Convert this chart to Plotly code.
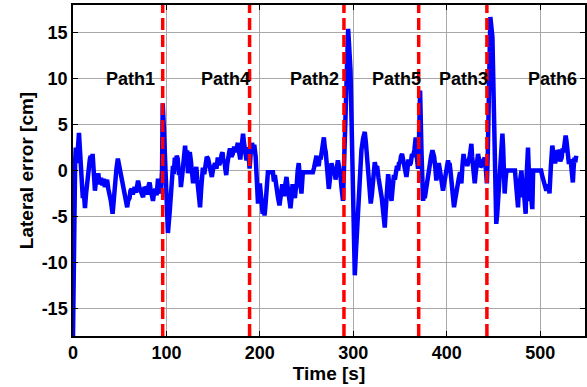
import plotly.graph_objects as go

# Time stamps [s]
time_s = [
    0, 0.5, 1.5, 2.3, 3, 4, 5, 6.4, 7.3, 8.5, 9.5, 10.5, 11.5, 12.8, 14, 15, 16, 17, 18, 19,
    20, 21, 22.3, 23.5, 24.5, 25.5, 26.2, 27, 28.5, 30, 31.5, 33, 34, 35, 36.5, 37.8, 39, 40.5, 42.4, 43.5,
    45, 46.5, 48, 49.5, 51, 52, 53.5, 55, 56, 57, 58, 59, 60.5, 61.5, 62.7, 64, 66, 67.5, 69.6, 71,
    72, 73.5, 75, 76.5, 78, 79.5, 81, 82, 83, 84, 85.6, 86.8, 88, 89.5, 91, 92.5, 94, 95.3, 96, 97.3,
    98.4, 100, 101.6, 103.5, 104.5, 105.5, 106.3, 107, 107.8, 109, 110, 111, 112, 112.8, 113.5, 114.5, 115.5, 116.8, 118, 119,
    120, 120.8, 121.5, 122.2, 123, 124, 125, 126, 127, 127.8, 128.5, 129.5, 131, 132, 133, 134.5, 136, 137.2, 139, 140.5,
    142, 143.2, 144.6, 145.8, 147, 148.6, 150, 152, 153.5, 155, 156.5, 158, 159, 160, 161, 162, 163, 164, 165, 166,
    167, 168, 169.5, 171, 172.5, 174, 175.3, 176.5, 177.8, 179, 180.5, 182, 183, 184, 185.7, 186.5, 187.5, 188.3, 189, 190.3,
    191.6, 192.8, 194, 195.5, 196.8, 198, 199, 200, 201.5, 203, 204, 205, 206, 207, 208.6, 214, 215, 216, 217, 218,
    219.5, 221, 222.5, 224, 225, 226, 227.3, 228.5, 229.5, 230.5, 231.5, 232.8, 234, 235, 236.3, 237.5, 238.5, 239.5, 240.5, 241.6,
    243, 244.5, 246, 256.7, 258, 259.3, 260.6, 261.8, 263, 264, 265, 266.5, 267.5, 268.5, 269.5, 270.5, 272, 273.8, 275.2, 276.7,
    278, 279, 280, 281, 282.3, 283.5, 284.5, 285.5, 286.5, 287.3, 289, 290.5, 292, 294.5, 297, 298.5, 299.8, 301.6, 303, 304.5,
    305.5, 307, 308.7, 310.5, 312.3, 313.5, 314.5, 315.5, 316.5, 317.5, 318.7, 320, 321, 322, 323, 324.3, 325.5, 327, 328.3, 329.4,
    330.5, 331.5, 332.5, 333.7, 334.6, 335.5, 336.5, 337.3, 338.5, 339.8, 340.9, 342.2, 343.5, 344.5, 345.5, 346.8, 348, 349, 350, 351,
    352.2, 353.3, 354.5, 355.6, 356.9, 358, 359, 360.2, 361.5, 362.8, 364, 365.5, 366.8, 368, 369.3, 370.5, 371.5, 373, 374.7, 375.6,
    376.5, 377.5, 378.5, 380, 381.8, 383.2, 384.7, 385.6, 386.5, 387.8, 388.9, 390.2, 391.5, 392.5, 393.5, 394.8, 396, 397.3, 398.5, 400,
    401.4, 402.2, 403, 404, 405, 406.5, 407.8, 409, 410.5, 411.8, 413, 414.3, 415.7, 416.8, 418, 419.3, 420.5, 422, 423.3, 424.5,
    425.5, 426.4, 427.2, 428, 429, 430, 430.8, 431.5, 432.5, 433.5, 435, 436, 437, 438.8, 440.6, 441.8, 443, 444, 445, 446.7,
    448.9, 450, 451.3, 452, 453, 454, 455, 456, 457, 458.3, 459.6, 460.4, 461, 462, 463, 464, 473, 474, 475, 476.3,
    477.2, 478, 479, 480, 480.8, 481.6, 482.5, 483.4, 484.5, 485.3, 486, 487, 488, 488.8, 490, 491.6, 492.5, 501, 502, 503,
    504.5, 506.6, 507.5, 508.3, 509.2, 510, 511.5, 513, 514, 515, 516, 517.3, 518.7, 520, 521.5, 523, 524, 525, 526.2, 527.3,
    528.2, 529, 530, 530.8, 532, 533, 534, 535, 535.8, 536.7, 537.6, 538.6,
]

# Lateral error [cm]
lateral_error_cm = [
    -18, -12, -2, 1, 2.5, 0.8, 2, 4.1, 2.5, 0, -1.5, -3, -2.2, -4.1, -2.5, -1.5, 0.3, 0.5, 1.2, 1.6,
    0.8, 1.8, -0.5, -2.2, -1.2, -0.5, -1.3, -0.3, -1.5, -0.8, -1.6, -0.9, -1.8, -1.2, -1.0, -2.0, -2.5, -3.3, -4.7, -3.0,
    -1.5, 0.2, 1.3, 0.5, 0, -0.8, -1.4, -2.0, -2.5, -3.2, -4.0, -3.3, -3.0, -2.2, -2.0, -2.6, -1.8, -2.4, -1.1, -1.8,
    -2.0, -2.5, -2.9, -1.8, -2.0, -2.6, -1.6, -1.3, -2.0, -2.5, -3.3, -2.4, -2.0, -2.7, -0.9, -1.8, -2.5, 0, 7.3, 4.5,
    1.4, -3.0, -6.8, -4.5, -2.8, -1.8, -0.6, 0.5, -0.4, 1.4, 0.6, 1.6, 1.3, 0.4, -0.5, 0.2, -1.8, -0.6, 0.5, 1.8,
    2.7, 1.5, 1.0, 2.2, -0.3, 0.8, 2.0, 1.2, 0.5, -0.6, -1.4, -0.2, -0.5, 0.4, -1.0, -2.8, -4.0, -2.0, 0.3, -0.4,
    0.5, 1.5, 1.3, 0.5, 0.3, -0.7, 0.2, 0.8, 0.2, 1.4, 0.6, 1.0, 1.7, 2.0, 1.0, 1.2, 0.2, -0.5, 0.6, 1.0,
    1.9, 2.4, 1.5, 1.8, 2.6, 2.0, 2.4, 3.0, 2.0, 1.2, 2.6, 4.0, 3.0, 2.0, 1.1, 2.2, 2.5, 1.2, 0.2, 2.0,
    3.0, 2.4, 2.8, 1.5, -1.0, -3.6, -2.5, -1.4, -3.0, -4.7, -4.0, -4.9, -3.8, -2.5, -0.2, -0.2, -1.2, -0.5, -1.5, -2.0,
    -3.0, -3.8, -2.2, -1.5, -2.2, -2.8, -1.5, -0.7, -1.6, -2.5, -3.3, -4.1, -2.8, -1.5, -2.2, -3.0, -2.0, -1.5, 0, 0.8,
    -1.0, -2.5, -0.2, -0.2, 0.3, 1.0, 1.6, 0.8, 0.5, 1.5, 1.2, 2.2, 3.0, 3.6, 2.5, 2.0, 0.2, -2.0, -0.8, 0.8,
    0.2, -0.5, 0.3, -1.0, 0.2, 1.1, 0.5, 0.0, -0.8, -1.8, -3.3, 2, 9.0, 15.4, 10.9, 4, -2.2, -11.4, -8.5, -5.4,
    -2.2, -1.1, 2.2, 3.5, 4.2, 3.0, 1.8, 0.5, -0.5, -2.0, -3.6, -2.5, -1.0, 0.0, 0.9, 0.2, 0.5, -0.8, -1.5, -2.2,
    -3.0, -4.0, -5.0, -6.2, -4.5, -2.5, -1.2, -0.4, -1.5, -2.5, -3.3, -1.8, -0.5, -1.0, -0.3, 0.5, 0.0, 0.9, 0.8, 1.5,
    1.8, 1.2, 0.5, -0.2, -0.7, 0.2, 1.2, 0.6, 0.8, 1.8, 1.5, 2.3, 3.6, 1.5, 0.2, 4, 8.7, 2, -3.3, -2.5,
    -3.0, -2.2, -1.5, -0.3, 0.4, 1.5, 2.2, 1.8, 1.5, 0.3, -1.1, 0.2, 0.8, 0.2, -0.5, -1.2, -2.2, -1.4, -0.5, 0.3,
    1.1, 0.6, 0.8, 0.0, -1.0, -2.8, -4.0, -3.2, -2.0, -1.2, -0.8, -0.2, -1.4, 0.5, 1.8, 0.8, 1.2, 0.5, 0.9, 1.5,
    2.2, 2.9, 1.5, 0.5, -0.5, -1.4, -0.5, 0.5, 1.0, 1.8, 1.0, 0.4, 0.5, 1.0, 1.4, 0.2, -1.4, 2, 10.1, 16.7,
    14.5, 10, 4.7, -1, -5.8, -4.8, -3.5, -1.5, 0, 2.0, 4.0, 2.5, 1.0, -2.5, -1.0, 0, 0, -1.0, -2.0, -4.0,
    -2.0, -1.0, -0.3, 0, -1.5, -2.9, -2.2, -3.3, -4.7, -1.0, 2.5, 2.5, -0.5, -3.3, -2.5, -4.2, 0, 0, -0.5, -1.0,
    -1.6, -2.2, -1.8, -2.2, -1.5, -2.5, 0.5, 2.7, 2.0, 1.5, 0.8, 1.4, 2.2, 2.0, 1.0, 1.4, 2.4, 2.0, 3.0, 3.8,
    3.2, 2.5, 1.5, 0.7, 1.2, 0.8, -0.3, -1.3, 0.2, 1.4, 0.9, 1.6,
]

switch_times = [96, 189, 290, 370, 443]
path_names = ["Path1", "Path4", "Path2", "Path5", "Path3", "Path6"]
path_label_x = [62, 163, 258, 346, 418, 513]
path_label_y = 10

x_ticks = [0, 100, 200, 300, 400, 500]
y_ticks = [-15, -10, -5, 0, 5, 10, 15]
x_range = [0, 548]
y_range = [-18, 18]

FONT = "Liberation Sans, Arial, sans-serif"

fig = go.Figure()
fig.add_trace(go.Scatter(x=time_s, y=lateral_error_cm, mode="lines",
                         line=dict(color="#0000ff", width=4.5), showlegend=False,
                         hoverinfo="skip"))

for t in switch_times:
    fig.add_shape(type="line", x0=t, x1=t, y0=y_range[0], y1=y_range[1], xref="x", yref="y",
                  line=dict(color="#ff0000", width=3.5, dash="12px,5px"), layer="above")

for name, lx in zip(path_names, path_label_x):
    fig.add_annotation(x=lx, y=path_label_y, text="<b>%s</b>" % name, showarrow=False,
                       font=dict(family=FONT, size=18, color="black"))

axis_common = dict(showline=True, linecolor="black", linewidth=1.5, mirror="ticks",
                   ticks="inside", ticklen=5, tickcolor="black", showgrid=True,
                   gridcolor="#a8a8a8", gridwidth=1, zeroline=False,
                   tickfont=dict(family=FONT, size=18, color="black"))

fig.update_xaxes(range=x_range, tickvals=x_ticks, ticktext=["<b>%d</b>" % v for v in x_ticks],
                 title=dict(text="<b>Time [s]</b>", font=dict(family=FONT, size=19, color="black"),
                            standoff=4),
                 **axis_common)
fig.update_yaxes(range=y_range, tickvals=y_ticks, ticktext=["<b>%d</b>" % v for v in y_ticks],
                 title=dict(text="<b>Lateral error [cm]</b>", font=dict(family=FONT, size=19, color="black"),
                            standoff=3),
                 **axis_common)

fig.update_layout(width=587, height=387, margin=dict(l=73, r=2, t=5, b=51, autoexpand=False),
                  plot_bgcolor="white", paper_bgcolor="white", showlegend=False)

fig.write_html("out.html", config={"displayModeBar": False},
               post_script="document.body.style.margin='0';document.body.style.overflow='hidden';")
